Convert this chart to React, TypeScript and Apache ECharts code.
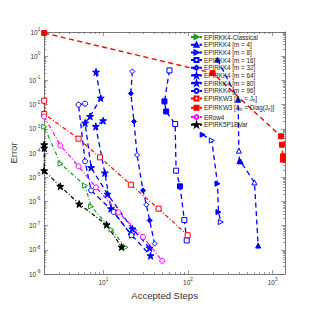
import React, { useEffect, useRef } from "react";
import * as echarts from "echarts";

// ---------- data ----------
const classicalSteps = [2, 3.12, 6.08, 7.16, 12.5, 18.2];
const classicalErr = [1.22e-3, 3.6e-5, 4.5e-6, 6.2e-7, 6.8e-8, 1.26e-8];

const m4Steps = [223, 391, 399, 405, 418, 610, 675];
const m4Err = [0.72, 1.6e-2, 1.25e-4, 4.7e-5, 4.5e-5, 6.1e-6, 1.5e-8];

const m8Steps = [149, 191, 223, 229, 244];
const m8Err = [5.7e-4, 3.3e-4, 5.4e-6, 3.6e-7, 1.4e-7];

const m16Steps = [60.4, 52.7, 55.2, 70.5, 72.3, 80.5, 90.5, 96.6];
const m16Err = [0.259, 1.36e-2, 5.2e-3, 1.58e-3, 1.86e-5, 4.2e-6, 1.7e-7, 2.44e-8];

const m32Steps = [22.0, 21.1, 23.0, 25.0, 29.4, 32.2, 35.2, 40.3];
const m32Err = [0.235, 2.9e-2, 2.0e-3, 8.3e-5, 2.85e-6, 7.3e-7, 1.64e-7, 1.8e-8];

const m64Steps = [8.19, 9.3, 6.97, 6.08, 7.16, 11.2, 22, 35.2];
const m64Err = [0.222, 1.87e-2, 3.25e-3, 1.74e-3, 2.5e-5, 2.0e-6, 7.4e-8, 1.19e-8];

const m80Steps = [9.95, 8.13, 10.4, 12.3, 21.5, 36.1];
const m80Err = [2.16e-3, 1.26e-3, 1.5e-5, 5.0e-7, 4.2e-8, 5.7e-9];

const m96Steps = [6.08, 5.09, 6.08, 7.16, 13.2, 21.5];
const m96Err = [1.09e-2, 9.9e-3, 4.5e-5, 2.85e-6, 3.65e-7, 4.0e-8];

const w3JSteps = [2, 2, 5.09, 9.12, 21.1, 44.9, 99];
const w3JErr = [1.45e-2, 4.1e-3, 3.9e-4, 6.6e-5, 4.9e-6, 5.0e-7, 4.0e-8];

const w3DiagSteps = [2, 195, 1253, 1288, 1324, 1324];
const w3DiagErr = [9.1, 0.2, 4.9e-4, 2.2e-4, 7.2e-5, 5.3e-5];

const erowSteps = [2, 3.1, 5.09, 8.19, 15.1, 29.4, 49.5];
const erowErr = [3.2e-3, 2.06e-4, 2.8e-5, 3.8e-6, 3.5e-7, 3.4e-8, 3.5e-9];

const bvarSteps = [2, 2, 2, 3.1, 5.18, 10.9, 16.4];
const bvarErr = [2.2e-4, 1.6e-4, 1.86e-5, 4.2e-6, 7.8e-7, 1.09e-7, 1.3e-8];

const xMajorTicks = [10, 100, 1000];
const yMajorExponents = [-9, -8, -7, -6, -5, -4, -3, -2, -1, 0, 1];

const X_MIN = 2;
const X_MAX = 1400;
const Y_MIN = 1e-9;
const Y_MAX = 10;

// ---------- styling ----------
const FONT = "'Liberation Sans', Arial, Helvetica, sans-serif";
const BLUE = "#0000ff";
const RED = "#ff0000";
const GREEN = "#1a9a1a";
const MAGENTA = "#ff00ff";
const BLACK = "#000000";
const AXIS = "#555555";
const DASH = [5, 3.5];
const DASHDOT = [4, 2, 1, 2];

const STAR = "path://M5,0 L6.2,3.6 L10,3.6 L6.9,5.9 L8.1,9.5 L5,7.3 L1.9,9.5 L3.1,5.9 L0,3.6 L3.8,3.6 Z";
const RTRI = "path://M0,0 L10,5 L0,10 Z";

const L = (v: number) => Math.log10(v);

function minorLogs(lo: number, hi: number) {
  const out: number[] = [];
  for (let d = -10; d <= 4; d++) {
    for (let k = 2; k <= 9; k++) {
      const v = k * Math.pow(10, d);
      if (v > lo && v < hi) out.push(L(v));
    }
  }
  return out;
}

type SDef = {
  name: string;
  steps: number[];
  err: number[];
  color: string;
  symbol: string;
  dash: number[];
  width: number;
  filled: "all" | "none" | number[];
};

const defs: SDef[] = [
  { name: "EPIRKK4-Classical", steps: classicalSteps, err: classicalErr, color: GREEN, symbol: RTRI, dash: DASHDOT, width: 1.2, filled: "none" },
  { name: "EPIRKK4 [m = 4]", steps: m4Steps, err: m4Err, color: BLUE, symbol: "triangle", dash: DASH, width: 1.3, filled: [0, 1, 3, 4, 6] },
  { name: "EPIRKK4 [m = 8]", steps: m8Steps, err: m8Err, color: BLUE, symbol: RTRI, dash: DASH, width: 1.3, filled: [0, 2, 3] },
  { name: "EPIRKK4 [m = 16]", steps: m16Steps, err: m16Err, color: BLUE, symbol: "rect", dash: DASH, width: 1.3, filled: [1, 2, 5] },
  { name: "EPIRKK4 [m = 32]", steps: m32Steps, err: m32Err, color: BLUE, symbol: "diamond", dash: DASH, width: 1.3, filled: [1, 2, 4, 6] },
  { name: "EPIRKK4 [m = 64]", steps: m64Steps, err: m64Err, color: BLUE, symbol: STAR, dash: DASH, width: 1.3, filled: "all" },
  { name: "EPIRKK4 [m = 80]", steps: m80Steps, err: m80Err, color: BLUE, symbol: STAR, dash: DASH, width: 1.3, filled: "all" },
  { name: "EPIRKK4 [m = 96]", steps: m96Steps, err: m96Err, color: BLUE, symbol: "circle", dash: DASH, width: 1.3, filled: "none" },
  { name: "EPIRKW3 [A_n = J_n]", steps: w3JSteps, err: w3JErr, color: RED, symbol: "rect", dash: DASHDOT, width: 1.2, filled: "none" },
  { name: "EPIRKW3 [A_n = Diag(J_n)]", steps: w3DiagSteps, err: w3DiagErr, color: RED, symbol: "rect", dash: DASH, width: 1.4, filled: "all" },
  { name: "ERow4", steps: erowSteps, err: erowErr, color: MAGENTA, symbol: "circle", dash: DASHDOT, width: 1.2, filled: "none" },
  { name: "EPIRK5P1BVar", steps: bvarSteps, err: bvarErr, color: BLACK, symbol: STAR, dash: DASHDOT, width: 1.2, filled: "all" },
];

const legendText: Record<string, string> = {
  "EPIRKW3 [A_n = J_n]": "EPIRKW3 [A{sub|n} = J{sub|n}]",
  "EPIRKW3 [A_n = Diag(J_n)]": "EPIRKW3 [A{sub|n} = Diag(J{sub|n})]",
};

function buildSeries() {
  return defs.map((d) => {
    const isFilled = (i: number) => d.filled === "all" || (Array.isArray(d.filled) && d.filled.includes(i));
    return {
      type: "line",
      name: d.name,
      symbol: d.symbol,
      symbolSize: d.symbol === STAR ? 7 : 5,
      showAllSymbol: true,
      clip: true,
      lineStyle: { color: d.color, width: d.width, type: d.dash },
      itemStyle: {
        color: d.filled === "all" ? d.color : "#ffffff",
        borderColor: d.color,
        borderWidth: 1,
      },
      emphasis: { disabled: true },
      data: d.steps.map((s, i) => {
        const item: any = { value: [L(s), L(d.err[i])] };
        if (isFilled(i) && d.filled !== "all") item.itemStyle = { color: d.color };
        return item;
      }),
    };
  });
}

const supRich = {
  b: { fontSize: 6.5, color: "#333", fontFamily: FONT },
  s: { fontSize: 4.6, color: "#333", fontFamily: FONT, padding: [0, 0, 5, 0] },
};

export default function App() {
  const ref = useRef<HTMLDivElement>(null);
  useEffect(() => {
    if (!ref.current) return;
    const chart = echarts.init(ref.current, undefined, { renderer: "svg" });
    const xmin = L(X_MIN), xmax = L(X_MAX), ymin = L(Y_MIN), ymax = L(Y_MAX);
    const xMaj = xMajorTicks.map(L);
    const xMin = minorLogs(X_MIN, X_MAX);
    const yMaj = yMajorExponents;
    const yMin = minorLogs(Y_MIN, Y_MAX);
    const fmt = (v: number) => `{b|10}{s|${Math.round(v)}}`;

    const xAx = (pos: string, vals: number[], len: number, main: boolean) => ({
      type: "value",
      position: pos,
      min: xmin,
      max: xmax,
      axisLine: { show: main, onZero: false, lineStyle: { color: AXIS, width: 0.8 } },
      axisTick: { show: true, inside: true, length: len, customValues: vals, lineStyle: { color: AXIS, width: 0.6 } },
      axisLabel: main && pos === "bottom"
        ? { show: true, customValues: xMaj, formatter: fmt, rich: supRich, margin: 3 }
        : { show: false },
      splitLine: { show: false },
      ...(main && pos === "bottom"
        ? { name: "Accepted Steps", nameLocation: "middle", nameGap: 15, nameTextStyle: { fontSize: 9.5, color: "#333", fontFamily: FONT } }
        : {}),
    });
    const yAx = (pos: string, vals: number[], len: number, main: boolean) => ({
      type: "value",
      position: pos,
      min: ymin,
      max: ymax,
      axisLine: { show: main, onZero: false, lineStyle: { color: AXIS, width: 0.8 } },
      axisTick: { show: true, inside: true, length: len, customValues: vals, lineStyle: { color: AXIS, width: 0.6 } },
      axisLabel: main && pos === "left"
        ? { show: true, customValues: yMaj, formatter: fmt, rich: supRich, margin: 4 }
        : { show: false },
      splitLine: { show: false },
      ...(main && pos === "left"
        ? { name: "Error", nameLocation: "middle", nameGap: 19, nameTextStyle: { fontSize: 9.5, color: "#333", fontFamily: FONT } }
        : {}),
    });

    chart.setOption({
      animation: false,
      backgroundColor: "#ffffff",
      textStyle: { fontFamily: FONT },
      grid: { left: 42, top: 32, right: 30, bottom: 41, containLabel: false },
      xAxis: [
        xAx("bottom", xMaj, 4, true),
        xAx("bottom", xMin, 2, false),
        xAx("top", xMaj, 4, true),
        xAx("top", xMin, 2, false),
      ],
      yAxis: [
        yAx("left", yMaj, 4, true),
        yAx("left", yMin, 2, false),
        yAx("right", yMaj, 4, true),
        yAx("right", yMin, 2, false),
      ],
      legend: {
        orient: "vertical",
        left: 190,
        top: 34,
        itemWidth: 11,
        itemHeight: 5,
        itemGap: 1.7,
        padding: 0,
        selectedMode: false,
        data: defs.map((d) => d.name),
        formatter: (n: string) => legendText[n] || n,
        textStyle: {
          fontSize: 6.3,
          color: "#222",
          fontFamily: FONT,
          padding: [0, 0, 0, -3],
          rich: {
            sub: { fontSize: 4.5, color: "#222", fontFamily: FONT, padding: [4, 0, 0, 0] },
          },
        },
      },
      series: buildSeries(),
    });
    return () => chart.dispose();
  }, []);
  return (
    <div
      ref={ref}
      style={{ position: "fixed", left: 0, top: 0, width: 315, height: 315, background: "#fff" }}
    />
  );
}
